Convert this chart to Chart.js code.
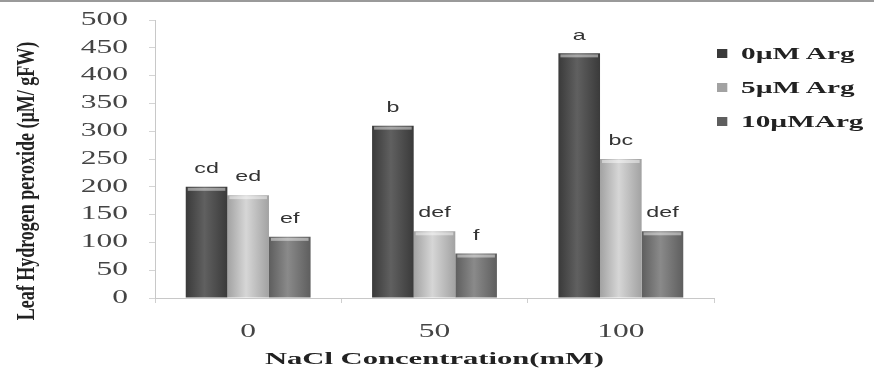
<!DOCTYPE html>
<html>
<head>
<meta charset="utf-8">
<script src="https://cdn.jsdelivr.net/npm/chart.js@4"></script>
<style>
  html, body { margin: 0; padding: 0; background: #fff; }
  #wrap { position: relative; width: 874px; height: 369px; border-top: 2px solid #9a9a9a; box-sizing: border-box; }
  #legend { position: absolute; left: 717px; top: 42px; font-family: "Liberation Serif", serif; font-weight: bold; font-size: 17px; color: #222;
            transform: scaleX(1.72); transform-origin: 0 0; }
  #legend div { height: 34px; line-height: 20px; white-space: nowrap; }
  #legend span { display: inline-block; width: 6px; height: 9px; margin-right: 8px; vertical-align: 1px; }
</style>
</head>
<body>
<div id="wrap">
  <canvas id="chart" width="874" height="367"></canvas>
  <div id="legend"></div>
</div>
<script>
const categories = ["0", "50", "100"];
const seriesNames = ["0µM Arg", "5µM Arg", "10µMArg"];
const arg0 = [200, 310, 440];
const arg5 = [185, 120, 250];
const arg10 = [110, 80, 120];
const letters0 = ["cd", "b", "a"];
const letters5 = ["ed", "def", "bc"];
const letters10 = ["ef", "f", "def"];
const yTitle = "Leaf Hydrogen peroxide (µM/ gFW)";
const xTitle = "NaCl Concentration(mM)";

// edge / middle shade for each series
const shades = [
    ["#3a3a3a", "#606060"],
    ["#a2a2a2", "#d6d6d6"],
    ["#5e5e5e", "#8a8a8a"]
];

function barFill(i) {
    return function (c) {
        const bar = c.chart.getDatasetMeta(c.datasetIndex).data[c.dataIndex];
        if (!bar || bar.x == null || isNaN(bar.x)) return shades[i][1];
        const g = c.chart.ctx.createLinearGradient(bar.x - bar.width / 2, 0, bar.x + bar.width / 2, 0);
        g.addColorStop(0, shades[i][0]);
        g.addColorStop(0.45, shades[i][1]);
        g.addColorStop(1, shades[i][0]);
        return g;
    };
}

// the original picture is stretched sideways, so text is drawn widened
function wideText(ctx, text, x, y, sx, align) {
    ctx.save();
    ctx.translate(x, y);
    ctx.scale(sx, 1);
    ctx.textAlign = align;
    ctx.fillText(text, 0, 0);
    ctx.restore();
}

const textPlugin = {
    id: "wideTexts",
    afterDatasetsDraw(chart) {
        const ctx = chart.ctx;
        const xs = chart.scales.x, ys = chart.scales.y;
        const area = chart.chartArea;
        ctx.save();
        ctx.textBaseline = "middle";

        // light rim on bar tops
        chart.data.datasets.forEach((ds, d) => {
            chart.getDatasetMeta(d).data.forEach(bar => {
                ctx.fillStyle = "rgba(255,255,255,0.45)";
                ctx.fillRect(bar.x - bar.width / 2 + 2, bar.y + 1, bar.width - 4, 3);
            });
        });

        // letters above bars
        const all = [letters0, letters5, letters10];
        ctx.font = "15px 'Liberation Sans', sans-serif";
        ctx.fillStyle = "#333";
        chart.data.datasets.forEach((ds, d) => {
            chart.getDatasetMeta(d).data.forEach((bar, k) => {
                wideText(ctx, all[d][k], bar.x, bar.y - 18, 1.55, "center");
            });
        });

        // y tick labels
        ctx.font = "18px 'Liberation Serif', serif";
        ctx.fillStyle = "#444";
        ys.ticks.forEach(t => {
            wideText(ctx, String(t.value), area.left - 27, ys.getPixelForValue(t.value), 1.75, "right");
        });
        // x tick labels
        categories.forEach((c, i) => {
            wideText(ctx, c, xs.getPixelForValue(i), area.bottom + 34, 1.75, "center");
        });

        // x title
        ctx.font = "bold 17px 'Liberation Serif', serif";
        ctx.fillStyle = "#222";
        wideText(ctx, xTitle, (area.left + area.right) / 2, area.bottom + 62, 1.8, "center");

        // y title, rotated; glyphs widened across the text line
        ctx.save();
        ctx.translate(27, (area.top + area.bottom) / 2 + 22);
        ctx.rotate(-Math.PI / 2);
        ctx.scale(1, 1.45);
        ctx.font = "bold 18px 'Liberation Serif', serif";
        ctx.textAlign = "center";
        ctx.fillText(yTitle, 0, 0);
        ctx.restore();

        ctx.restore();
    }
};

const chart = new Chart(document.getElementById("chart"), {
    type: "bar",
    data: {
        labels: categories,
        datasets: [
            { label: seriesNames[0], data: arg0, backgroundColor: barFill(0), borderWidth: 0 },
            { label: seriesNames[1], data: arg5, backgroundColor: barFill(1), borderWidth: 0 },
            { label: seriesNames[2], data: arg10, backgroundColor: barFill(2), borderWidth: 0 }
        ]
    },
    options: {
        responsive: false,
        animation: false,
        layout: { padding: { top: 18, right: 160, left: 0, bottom: 0 } },
        datasets: { bar: { categoryPercentage: 0.67, barPercentage: 1.0 } },
        plugins: { legend: { display: false }, tooltip: { enabled: false } },
        scales: {
            x: {
                afterFit(s) { s.height = 71; },
                grid: { display: true, drawOnChartArea: false, drawTicks: true, tickLength: 5, color: "#cfcfcf" },
                border: { color: "#c8c8c8" },
                ticks: { display: false }
            },
            y: {
                min: 0, max: 500,
                afterFit(s) { s.width = 155; },
                grid: { display: true, drawOnChartArea: false, drawTicks: true, tickLength: 6, color: "#d4d4d4" },
                border: { color: "#c8c8c8" },
                ticks: { stepSize: 50, display: false }
            }
        }
    },
    plugins: [textPlugin]
});
chart.update();

const legend = document.getElementById("legend");
seriesNames.forEach((name, i) => {
    const row = document.createElement("div");
    row.innerHTML = '<span style="background:' + shades[i][0] + '"></span>' + name;
    legend.appendChild(row);
});
</script>
</body>
</html>
